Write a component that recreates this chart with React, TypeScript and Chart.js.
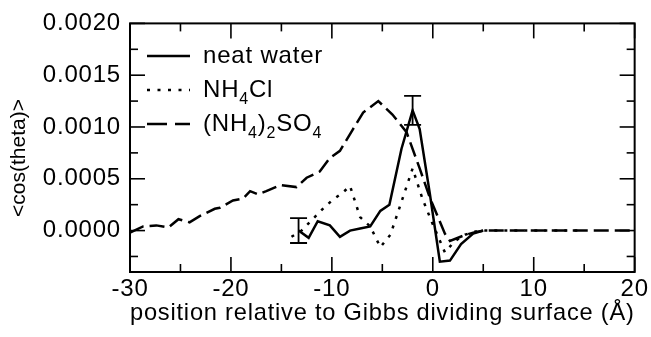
import React, { useEffect, useRef } from "react";
import { Chart, registerables } from "chart.js";

Chart.register(...registerables);

// ---- data ----
const xTicks = [-30, -20, -10, 0, 10, 20];
const xMinorTicks = [-25, -15, -5, 5, 15];
const yTicks = [0, 0.0005, 0.001, 0.0015, 0.002];
const yMinorTicks = [-0.00025, 0.00025, 0.00075, 0.00125, 0.00175];

const waterX = [-13.3, -12.3, -11.4, -10.2, -9.2, -8.2, -7.2, -6.2, -5.2, -4.3, -3.1, -2.0, -1.3, -0.3, 0.7, 1.7, 2.8, 4.0, 5.0];
const waterY = [0.0, -0.00007, 0.00009, 0.00005, -0.00006, 0.0, 0.00002, 0.00004, 0.00019, 0.00025, 0.00079, 0.00116, 0.00098, 0.00036, -0.0003, -0.00029, -0.00013, -0.00003, 0.0];
const waterErr = [0.00012, null, null, null, null, null, null, null, null, null, null, 0.00014, null, null, null, null, null, null, null];

const nh4clX = [-14, -13, -12, -11, -10, -9, -8.2, -7.2, -6.2, -5.2, -4.2, -3.2, -2.0, -1.0, 0.0, 1.2, 2.2, 3.2, 4.2, 5.2, 15];
const nh4clY = [-0.00006, 0.0, 0.0001, 0.0002, 0.00029, 0.00036, 0.00043, 0.00013, 0.00004, -0.00016, -0.00004, 0.00025, 0.0006, 0.0003, 0.00006, -0.00021, -0.0001, -0.00004, -0.00001, 0.0, 0.0];

const sulfX = [-30, -28.7, -27.4, -26.2, -25.2, -24.1, -23.1, -21.6, -21.1, -19.8, -18.8, -18.1, -17.3, -16.5, -15.1, -13.5, -12.5, -11.2, -10.2, -9.2, -7.9, -6.9, -5.4, -4.0, -2.6, -1.3, -0.3, 1.2, 1.7, 3.0, 4.0, 5.0, 20];
const sulfY = [-0.00002, 0.00004, 0.00005, 0.00003, 0.00011, 0.00008, 0.00014, 0.00021, 0.00022, 0.00029, 0.00031, 0.00038, 0.00035, 0.00038, 0.00044, 0.00042, 0.00051, 0.00057, 0.0007, 0.00077, 0.00098, 0.00114, 0.00125, 0.00112, 0.00095, 0.0006, 0.00032, -0.00003, -0.0001, -0.00005, -0.00002, 0.0, 0.0];

const seriesLabels = ["neat water", "NH_4Cl", "(NH_4)_2SO_4"];
const xTitle = "position relative to Gibbs dividing surface (Å)";
const yTitle = "<cos(theta)>";

const FONT = '"Liberation Sans", Arial, Helvetica, sans-serif';
const DASHES: number[][] = [[], [3, 7], [15, 6]];
const LEGEND_DASHES: number[][] = [[], [3, 7.5], [20, 8]];

function toPoints(xs: number[], ys: number[]) {
  return xs.map((x, i) => ({ x, y: ys[i] }));
}

function drawRich(ctx: CanvasRenderingContext2D, text: string, x: number, y: number, size: number) {
  // "_d" marks a subscript character
  let cx = x;
  let i = 0;
  while (i < text.length) {
    if (text[i] === "_" && i + 1 < text.length) {
      ctx.font = `${Math.round(size * 0.68)}px ${FONT}`;
      ctx.fillText(text[i + 1], cx, y + size * 0.28);
      cx += ctx.measureText(text[i + 1]).width;
      i += 2;
    } else {
      let j = i;
      while (j < text.length && text[j] !== "_") j++;
      const seg = text.slice(i, j);
      ctx.font = `${size}px ${FONT}`;
      ctx.fillText(seg, cx, y);
      cx += ctx.measureText(seg).width;
      i = j;
    }
  }
}

const decorPlugin = {
  id: "decor",
  beforeDraw(chart: any) {
    chart.ctx.letterSpacing = "0.8px";
  },
  afterDatasetsDraw(chart: any) {
    const ctx = chart.ctx as CanvasRenderingContext2D;
    const xs = chart.scales.x;
    const ys = chart.scales.y;
    ctx.save();
    ctx.strokeStyle = "#000";
    ctx.lineWidth = 1.8;
    ctx.setLineDash([]);
    waterErr.forEach((e, i) => {
      if (e == null) return;
      const px = xs.getPixelForValue(waterX[i]);
      const y1 = ys.getPixelForValue(waterY[i] + e);
      const y2 = ys.getPixelForValue(waterY[i] - e);
      ctx.beginPath();
      ctx.moveTo(px, y1);
      ctx.lineTo(px, y2);
      ctx.moveTo(px - 8.5, y1);
      ctx.lineTo(px + 8.5, y1);
      ctx.moveTo(px - 8.5, y2);
      ctx.lineTo(px + 8.5, y2);
      ctx.stroke();
    });
    ctx.restore();
  },
  afterDraw(chart: any) {
    const ctx = chart.ctx as CanvasRenderingContext2D;
    const { left, right, top, bottom } = chart.chartArea;
    const xs = chart.scales.x;
    const ys = chart.scales.y;
    ctx.save();
    (ctx as any).letterSpacing = "0px";
    ctx.strokeStyle = "#000";
    ctx.fillStyle = "#000";
    ctx.setLineDash([]);
    ctx.lineWidth = 2;
    ctx.strokeRect(left, top, right - left, bottom - top);
    ctx.lineWidth = 1.6;
    const seg = (x1: number, y1: number, x2: number, y2: number) => {
      ctx.beginPath();
      ctx.moveTo(x1, y1);
      ctx.lineTo(x2, y2);
      ctx.stroke();
    };
    const major = 15;
    const minor = 8;
    xTicks.forEach((v) => {
      const x = xs.getPixelForValue(v);
      seg(x, bottom, x, bottom - major);
      seg(x, top, x, top + major);
    });
    xMinorTicks.forEach((v) => {
      const x = xs.getPixelForValue(v);
      seg(x, bottom, x, bottom - minor);
      seg(x, top, x, top + minor);
    });
    yTicks.forEach((v) => {
      const y = ys.getPixelForValue(v);
      seg(left, y, left + major, y);
      seg(right, y, right - major, y);
    });
    yMinorTicks.forEach((v) => {
      const y = ys.getPixelForValue(v);
      seg(left, y, left + minor, y);
      seg(right, y, right - minor, y);
    });

    // y-axis title
    ctx.save();
    ctx.translate(19, 158);
    ctx.rotate(-Math.PI / 2);
    ctx.font = `21px ${FONT}`;
    ctx.textAlign = "center";
    ctx.textBaseline = "middle";
    ctx.fillText(yTitle, 0, 0);
    ctx.restore();

    // legend
    const rows = [56, 90, 124];
    ctx.lineWidth = 2.5;
    seriesLabels.forEach((lab, i) => {
      const y = rows[i];
      ctx.setLineDash(LEGEND_DASHES[i]);
      ctx.beginPath();
      ctx.moveTo(147, y);
      ctx.lineTo(190, y);
      ctx.stroke();
      ctx.setLineDash([]);
      (ctx as any).letterSpacing = "0.8px";
      ctx.textAlign = "left";
      ctx.textBaseline = "alphabetic";
      drawRich(ctx, lab, 203, y + 7, 24);
      (ctx as any).letterSpacing = "0px";
    });
    ctx.restore();
  },
};

export default function App() {
  const ref = useRef<HTMLCanvasElement | null>(null);
  useEffect(() => {
    if (!ref.current) return;
    const mk = (label: string, xs: number[], ys: number[], i: number) => ({
      label: label.replace(/_/g, ""),
      data: toPoints(xs, ys),
      borderColor: "#000",
      backgroundColor: "#000",
      borderWidth: 2.5,
      borderDash: DASHES[i],
      pointRadius: 0,
      tension: 0,
      fill: false,
      showLine: true,
    });
    const chart = new Chart(ref.current, {
      type: "line",
      data: {
        datasets: [
          mk(seriesLabels[0], waterX, waterY, 0),
          mk(seriesLabels[1], nh4clX, nh4clY, 1),
          mk(seriesLabels[2], sulfX, sulfY, 2),
        ] as any,
      },
      options: {
        responsive: false,
        animation: false,
        devicePixelRatio: 1,
        layout: { padding: { top: 20, right: 16, left: 0, bottom: 0 } },
        plugins: { legend: { display: false }, tooltip: { enabled: false } },
        scales: {
          x: {
            type: "linear",
            min: -30,
            max: 20,
            grid: { display: false, drawTicks: false },
            border: { display: false },
            ticks: {
              stepSize: 10,
              color: "#000",
              font: { family: FONT, size: 24 },
              padding: 3,
              maxRotation: 0,
              autoSkip: false,
              callback: (v: any) => (xTicks.includes(Number(v)) ? String(v) : ""),
            },
            title: {
              display: true,
              text: xTitle,
              color: "#000",
              font: { family: FONT, size: 24 },
              padding: { top: 0, bottom: 9 },
            },
            afterFit: (s: any) => {
              s.height = 65;
            },
          },
          y: {
            type: "linear",
            min: -0.0004,
            max: 0.002,
            grid: { display: false, drawTicks: false },
            border: { display: false },
            ticks: {
              stepSize: 0.0005,
              includeBounds: false,
              autoSkip: false,
              color: "#000",
              font: { family: FONT, size: 24 },
              padding: 9,
              callback: (v: any) => {
                const n = Number(v);
                return yTicks.some((t) => Math.abs(t - n) < 1e-9) ? n.toFixed(4) : "";
              },
            },
            afterFit: (s: any) => {
              s.width = 130;
            },
          },
        },
      } as any,
      plugins: [decorPlugin as any],
    });
    return () => chart.destroy();
  }, []);
  return (
    <div style={{ position: "fixed", left: 0, top: 0, width: 651, height: 337, background: "#fff" }}>
      <canvas ref={ref} width={651} height={337} style={{ display: "block" }} />
    </div>
  );
}
